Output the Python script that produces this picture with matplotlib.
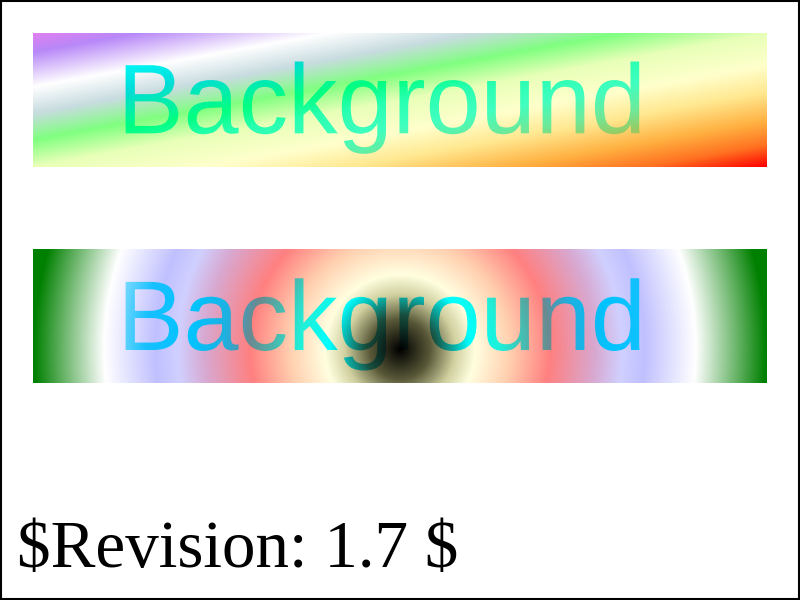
import numpy as np
import matplotlib
matplotlib.use("Agg")
import matplotlib.pyplot as plt
from matplotlib.patches import Rectangle, PathPatch
from matplotlib.textpath import TextPath
from matplotlib.font_manager import FontProperties
from matplotlib.colors import to_rgb
from matplotlib.transforms import Affine2D

# top band: linear gradient, position along the bbox diagonal (0..1)
lin_offsets = [0.0, 0.07, 0.2, 0.3, 0.4, 0.5, 0.62, 0.72, 0.83, 0.92, 1.0]
lin_colors = ['#e080f0', '#b888f8', '#ffffff', '#c8dce0', '#80ff80', '#e8ffb8',
              '#ffffcc', '#ffe890', '#ffb040', '#ff7020', '#ff0000']
lin_text_offsets = [0.15, 0.28, 0.42, 0.5, 0.6, 0.7, 0.8]
lin_text_colors = ['#00ffff', '#00dcd8', '#00ff80', '#28ffb0', '#40ffc0', '#70e898', '#a8c050']

# bottom band: radial gradient, distance from the focus in px
rad_offsets = [0, 30, 55, 75, 110, 150, 195, 222, 245, 296, 366]
rad_colors = ['#000000', '#585838', '#d0d0a0', '#ffffe0', '#ffd0b0', '#ff8080',
              '#d8a8d0', '#d0d0ff', '#c0c0ff', '#ffffff', '#008000']
rad_text_offsets = [0, 35, 70, 100, 130, 150, 175, 210, 255, 290]
rad_text_colors = ['#000000', '#185040', '#00ffff', '#20f0d8', '#50b0a8', '#6a8a90',
                   '#20b0e0', '#00c4ff', '#18c0ff', '#90e0ff']

label = "Background"
revision = "$Revision: 1.7 $"


def ramp(t, offsets, colors):
    rgb = np.array([to_rgb(c) for c in colors])
    return np.stack([np.interp(t, offsets, rgb[:, i]) for i in range(3)], axis=-1)


fig = plt.figure(figsize=(8, 6), dpi=100)
ax = fig.add_axes([0, 0, 1, 1])
ax.set_xlim(0, 800)
ax.set_ylim(600, 0)
ax.axis('off')

x0, w, h = 33.3, 733.3, 133.3
font = FontProperties(family='Liberation Sans')
text_path = TextPath((0, 0), label, size=99, prop=font)


def band(y0, field, offsets, colors, toffsets, tcolors, baseline):
    xs = np.linspace(x0, x0 + w, 734)
    ys = np.linspace(y0, y0 + h, 134)
    X, Y = np.meshgrid(xs, ys)
    t = field(X, Y, y0)
    ext = (x0, x0 + w, y0 + h, y0)
    ax.imshow(ramp(t, offsets, colors), extent=ext, origin='upper',
              interpolation='bilinear', aspect='auto')
    im = ax.imshow(ramp(t, toffsets, tcolors), extent=ext, origin='upper',
                   interpolation='bilinear', aspect='auto')
    tf = Affine2D().scale(1, -1).translate(117.5, baseline)
    patch = PathPatch(tf.transform_path(text_path), facecolor='none',
                      edgecolor='none', transform=ax.transData)
    ax.add_patch(patch)
    im.set_clip_path(patch)


def diag(X, Y, y0):
    return ((X - x0) / w + (Y - y0) / h) / 2


def radial(X, Y, y0):
    return np.hypot(X - 400, Y - 350)


band(33.3, diag, lin_offsets, lin_colors, lin_text_offsets, lin_text_colors, 133.3)
band(250, radial, rad_offsets, rad_colors, rad_text_offsets, rad_text_colors, 350)

ax.text(16.7, 566.7, revision, family='Liberation Serif', fontsize=48.3,
        va='baseline', ha='left', parse_math=False)

ax.add_patch(Rectangle((1, 1), 798, 598, fill=False, edgecolor='black', linewidth=1.5))

ax.set_xlim(0, 800)
ax.set_ylim(600, 0)
fig.savefig('out.png', dpi=100)
